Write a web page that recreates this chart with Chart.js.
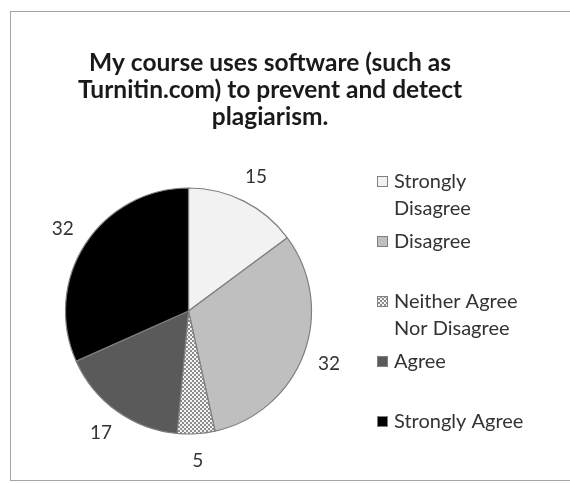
<!DOCTYPE html>
<html>
<head>
<meta charset="utf-8">
<script src="https://cdn.jsdelivr.net/npm/chart.js@4.4.1/dist/chart.umd.min.js"></script>
<style>
  html, body { margin: 0; padding: 0; background: #fff; }
  #wrap { position: relative; width: 570px; height: 483px; }
</style>
</head>
<body>
<div id="wrap"><canvas id="chartPie" width="570" height="483"></canvas></div>
<script>
// data
const kategori = [["Strongly", "Disagree"], "Disagree", ["Neither Agree", "Nor Disagree"], "Agree", "Strongly Agree"];
const nilai = [15, 32, 5, 17, 32];
const judul = ["My course uses software (such as", "Turnitin.com) to prevent and detect", "plagiarism."];

const FONT = "Lato, 'Open Sans', sans-serif";

// pola kotak-kotak untuk "Neither Agree Nor Disagree"
function bikinPola() {
    const c = document.createElement("canvas");
    c.width = 4; c.height = 4;
    const g = c.getContext("2d");
    g.fillStyle = "#f4f4f4";
    g.fillRect(0, 0, 4, 4);
    g.fillStyle = "#8c8c8c";
    g.fillRect(0, 0, 2, 2);
    g.fillRect(2, 2, 2, 2);
    return g.createPattern(c, "repeat");
}

const ctx = document.getElementById("chartPie").getContext("2d");
const pola = bikinPola();
const warna = ["#f2f2f2", "#bfbfbf", pola, "#5a5a5a", "#000000"];

// gambar bingkai, judul, label angka dan legenda sendiri
const overlay = {
    id: "overlay",
    beforeDraw(chart) {
        const g = chart.ctx;
        g.save();
        g.strokeStyle = "#a6a6a6";
        g.lineWidth = 1;
        g.strokeRect(10.5, 11.5, 600, 469);
        g.restore();
    },
    afterDraw(chart) {
        const g = chart.ctx;
        g.save();
        g.fillStyle = "#1a1a1a";
        g.textAlign = "center";
        g.textBaseline = "middle";

        // judul
        g.font = "bold 24.5px " + FONT;
        judul.forEach((t, i) => g.fillText(t, 270, 63 + i * 27));

        // label angka di luar irisan
        g.font = "19px " + FONT;
        g.fillStyle = "#333";
        const meta = chart.getDatasetMeta(0);
        meta.data.forEach((arc, i) => {
            const mid = (arc.startAngle + arc.endAngle) / 2;
            const r = arc.outerRadius + 27;
            g.fillText(String(nilai[i]), arc.x + Math.cos(mid) * r, arc.y + Math.sin(mid) * r);
        });

        // legenda
        g.textAlign = "left";
        g.font = "20px " + FONT;
        kategori.forEach((lab, i) => {
            const y = 182 + i * 60;
            g.fillStyle = warna[i];
            g.fillRect(377, y - 6, 11, 11);
            g.strokeStyle = "#7f7f7f";
            g.lineWidth = 1;
            g.strokeRect(377.5, y - 5.5, 10, 10);
            g.fillStyle = "#333";
            const baris = Array.isArray(lab) ? lab : [lab];
            baris.forEach((t, j) => g.fillText(t, 394, y + j * 27));
        });
        g.restore();
    }
};

new Chart(ctx, {
    type: "pie",
    data: {
        labels: kategori,
        datasets: [{
            data: nilai,
            backgroundColor: warna,
            borderColor: "#7f7f7f",
            borderWidth: 1.2,
            hoverOffset: 0
        }]
    },
    options: {
        responsive: false,
        animation: false,
        events: [],
        radius: 123,
        layout: { padding: { left: 58.5, right: 251.5, top: 181, bottom: 42 } },
        plugins: {
            legend: { display: false },
            title: { display: false },
            tooltip: { enabled: false }
        }
    },
    plugins: [overlay]
});
</script>
</body>
</html>
